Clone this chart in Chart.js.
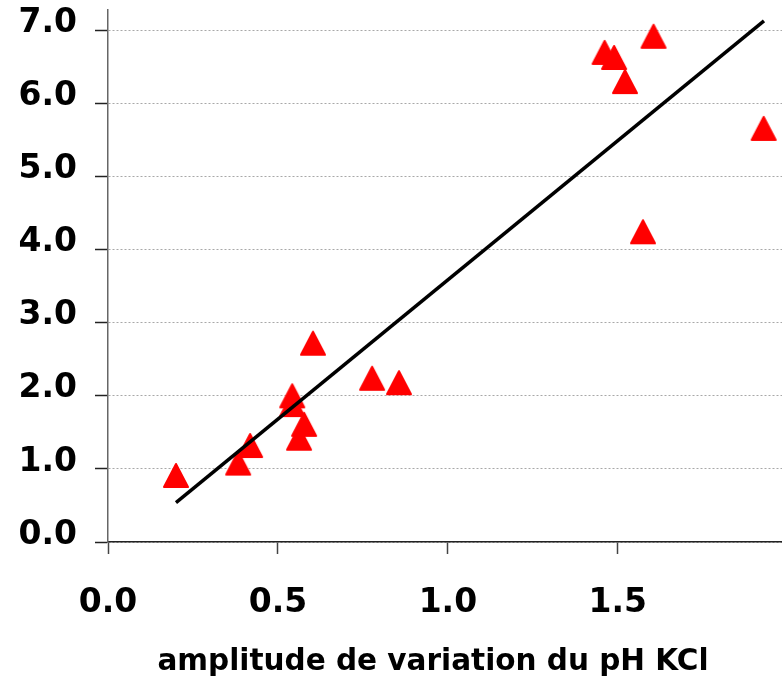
<!DOCTYPE html>
<html>
<head>
<meta charset="utf-8">
<script src="https://cdn.jsdelivr.net/npm/chart.js@4/dist/chart.umd.min.js"></script>
<style>
  html, body { margin: 0; padding: 0; background: #fff; }
  #c { display: block; }
</style>
</head>
<body>
<canvas id="c" width="782" height="679"></canvas>
<script>
// Measured samples: pH KCl variation amplitude vs. response
const amplitudePH = [0.20, 0.383, 0.418, 0.542, 0.542, 0.577, 0.562, 0.603, 0.777, 0.856, 1.461, 1.489, 1.521, 1.605, 1.574, 1.929];
const responseValues = [0.91, 1.08, 1.32, 2.00, 1.88, 1.61, 1.42, 2.72, 2.24, 2.18, 6.70, 6.63, 6.30, 6.92, 4.245, 5.66];

// Linear trend line endpoints
const trendX = [0.20, 1.93];
const trendY = [0.54, 7.13];

// Axis ticks
const xTicks = [0, 0.5, 1.0, 1.5];
const yTicks = [0, 1, 2, 3, 4, 5, 6, 7];
const xLabel = 'amplitude de variation du pH KCl';

const FONT = 'DejaVu Sans';

// Red triangle marker, centred on its bounding box
function makeTriangle() {
  const cv = document.createElement('canvas');
  cv.width = 28; cv.height = 27;
  const g = cv.getContext('2d');
  g.beginPath();
  g.moveTo(14, 2);
  g.lineTo(26, 25);
  g.lineTo(2, 25);
  g.closePath();
  g.fillStyle = '#ff0000';
  g.strokeStyle = '#ff0000';
  g.lineWidth = 2;
  g.lineJoin = 'round';
  g.fill();
  g.stroke();
  return cv;
}
const triangle = makeTriangle();

// X-axis caption, centred slightly left of the plot area's middle
const axisCaption = {
  id: 'axisCaption',
  afterDraw(chart) {
    const { ctx, chartArea } = chart;
    ctx.save();
    ctx.font = 'bold 29.5px "' + FONT + '"';
    ctx.fillStyle = '#000';
    ctx.textAlign = 'center';
    ctx.textBaseline = 'middle';
    ctx.fillText(xLabel, (chartArea.left + chartArea.right) / 2 - 12, chart.height - 17);
    ctx.restore();
  }
};

new Chart(document.getElementById('c'), {
  type: 'scatter',
  data: {
    datasets: [
      {
        type: 'line',
        data: trendX.map((x, i) => ({ x, y: trendY[i] })),
        borderColor: '#000',
        borderWidth: 3.5,
        pointRadius: 0,
        fill: false,
        order: 0
      },
      {
        data: amplitudePH.map((x, i) => ({ x, y: responseValues[i] })),
        pointStyle: triangle,
        pointRadius: 14,
        order: 1
      }
    ]
  },
  plugins: [axisCaption],
  options: {
    responsive: false,
    devicePixelRatio: 1,
    animation: false,
    layout: { autoPadding: false, padding: { top: 10, right: 0, left: 0, bottom: 0 } },
    plugins: { legend: { display: false }, tooltip: { enabled: false } },
    scales: {
      x: {
        type: 'linear',
        min: 0,
        max: 1.983,
        afterBuildTicks: s => { s.ticks = xTicks.map(v => ({ value: v })); },
        afterFit: s => { s.height = 137; s.paddingLeft = 0; s.paddingRight = 0; },
        grid: {
          drawOnChartArea: false,
          drawTicks: true,
          tickLength: 12,
          tickColor: '#444',
          tickWidth: 1.5
        },
        border: { display: true, color: '#222', width: 1.5 },
        ticks: {
          color: '#000',
          padding: 30,
          maxRotation: 0,
          font: { family: FONT, size: 33, weight: 'bold' },
          callback: v => Number(v).toFixed(1)
        },
        title: { display: false }
      },
      y: {
        type: 'linear',
        min: 0,
        max: 7.28,
        afterBuildTicks: s => { s.ticks = yTicks.map(v => ({ value: v })); },
        afterFit: s => { s.width = 108; s.paddingTop = 0; s.paddingBottom = 0; },
        grid: {
          drawOnChartArea: true,
          drawTicks: true,
          tickLength: 13,
          color: '#a8a8a8',
          lineWidth: 1,
          tickColor: '#222',
          tickWidth: 1.5
        },
        border: { display: true, color: '#666', width: 1.5, dash: [2, 2] },
        ticks: {
          color: '#000',
          padding: 18,
          labelOffset: -7,
          font: { family: FONT, size: 33, weight: 'bold' },
          callback: v => Number(v).toFixed(1)
        }
      }
    }
  }
});
</script>
</body>
</html>
